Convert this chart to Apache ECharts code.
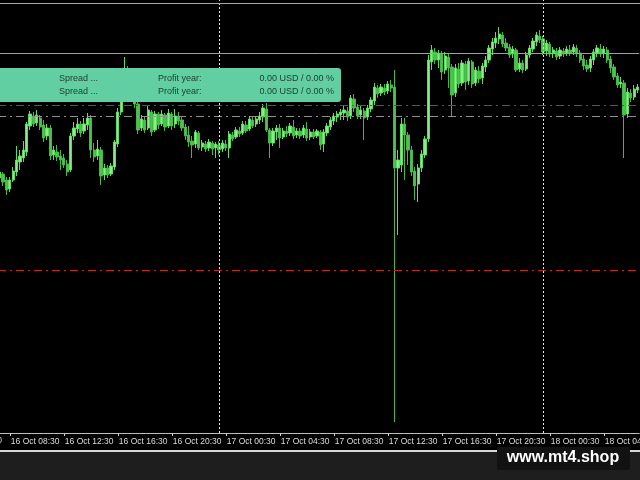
<!DOCTYPE html>
<html>
<head>
<meta charset="utf-8">
<script src="https://cdn.jsdelivr.net/npm/echarts@6/dist/echarts.min.js"></script>
<style>
html,body{margin:0;padding:0;background:#000;}
#c{width:640px;height:480px;}
</style>
</head>
<body>
<div id="c"></div>
<script>
// ---- data (price in chart points) ----
const startDay = 16;            // 16 Oct
const startMinute = 7 * 60 + 45; // 07:45, M15 bars
const barMinutes = 15;

const openP = [255,259,253,244,253,261,271,275,281,307, 317,310,315,308,297,305,278,281,277,275,
269,263,297,304,309,302,308,315,283,277, 283,258,265,259,266,289,321,343,359,348,
338,329,305,313,305,321,303,319,309,318, 307,319,309,317,313,306,298,292,289,300,
286,289,285,290,285,288,284,289,285,298, 296,302,300,308,304,313,309,313,316,324,
303,290,301,305,296,302,300,306,298,302, 298,304,296,301,297,301,289,300,306,312,
316,318,320,322,317,334,326,318,322,316, 324,332,345,340,345,342,348,346,265,268,
309,298,283,262,249,265,278,294,371,381, 373,379,363,376,366,340,364,350,369,352,
371,350,362,355,366,373,384,390,394,398, 390,386,379,383,364,370,364,378,384,391,
397,394,382,389,380,382,377,382,380,383, 381,385,380,374,368,365,373,380,384,380,
383,374,366,357,349,350,319,340,336,343];

const closeP = [261,251,243,253,262,273,277,283,309,319, 309,318,306,295,305,277,283,276,273,268,
261,297,305,309,300,309,315,283,276,284, 257,265,258,267,291,321,343,361,348,338,
329,303,314,303,323,301,319,308,319,306, 320,307,317,312,305,297,291,288,301,285,
290,284,291,284,289,283,290,285,299,294, 303,299,309,302,314,307,314,317,325,303,
290,302,305,295,302,299,307,297,302,297, 305,295,301,296,302,288,301,307,313,317,
319,321,323,316,335,325,317,323,315,325, 333,346,339,346,341,349,345,265,273,309,
298,283,261,247,265,279,294,373,383,373, 380,361,377,365,338,365,349,370,351,372,
349,363,354,367,373,385,391,395,399,389, 385,378,384,363,370,363,378,385,392,398,
393,381,390,379,383,376,383,379,384,380, 386,379,373,367,364,374,381,385,379,384,
373,365,356,348,351,318,341,335,344,346];

const lowP = [250,247,238,241,251,257,263,271,277,303, 306,307,303,291,293,273,273,272,263,265,
257,261,293,300,296,299,303,275,271,273, 248,253,255,257,263,286,318,338,343,333,
325,299,302,300,303,297,301,304,307,302, 305,303,305,308,302,293,286,275,285,283,
282,281,282,278,275,278,281,282,275,292, 294,296,298,300,302,305,306,309,311,301,
275,287,293,285,294,296,297,294,295,294, 295,292,293,294,295,283,281,297,303,308,
311,313,313,312,314,321,314,314,293,313, 321,328,335,337,338,339,341,11,198,261,
253,268,257,233,231,261,275,291,363,369, 365,353,359,345,316,336,345,347,343,348,
345,347,350,349,361,370,378,385,389,386, 382,375,375,361,361,360,362,375,381,387,
390,378,377,376,375,373,374,376,377,377, 378,376,370,363,361,361,368,376,376,375,
370,360,353,345,345,275,315,331,333,340];

const highP = [265,261,256,256,266,287,283,292,311,322, 321,323,318,313,309,308,287,288,283,279,
273,300,311,315,312,315,320,318,290,293, 286,269,268,270,293,325,348,376,367,353,
343,335,318,316,327,323,322,321,323,320, 324,321,324,321,316,309,307,297,303,302,
293,292,294,292,291,292,293,293,302,301, 306,306,312,312,317,316,317,321,329,330,
305,305,308,309,305,307,310,313,305,305, 308,311,304,304,304,303,304,310,316,320,
322,324,327,326,338,339,329,327,325,328, 336,350,348,349,349,352,353,363,283,315,
315,301,287,266,269,283,297,378,388,385, 383,382,381,379,369,369,370,373,372,375,
373,366,367,370,377,388,395,401,406,401, 395,389,387,385,375,373,381,388,395,401,
403,397,393,391,386,385,386,385,387,388, 389,388,383,378,373,377,384,388,389,387,
386,377,369,360,356,353,345,344,348,349];

const tickLabels = ['16 Oct 08:30','16 Oct 12:30','16 Oct 16:30','16 Oct 20:30',
  '17 Oct 00:30','17 Oct 04:30','17 Oct 08:30','17 Oct 12:30','17 Oct 16:30',
  '17 Oct 20:30','18 Oct 00:30','18 Oct 04:30'];
const cutLabel = '16 Oct 04:30'; // label just left of the visible window

const daySeparators = ['17 Oct 00:00', '18 Oct 00:00'];

// price levels
const levelSolidGray = 380;
const levelRedUpper = 328;
const levelGrayDashDot = 317;
const levelRedLower = 163;

const panelRows = [
  ['Spread ...', 'Profit year:', '0.00 USD / 0.00 %'],
  ['Spread ...', 'Profit year:', '0.00 USD / 0.00 %']
];
const watermark = 'www.mt4.shop';

// ---- build ----
function pad(n){ return (n < 10 ? '0' : '') + n; }
const categories = [];
for (let i = 0; i < openP.length; i++) {
  const t = startMinute + barMinutes * i;
  const d = startDay + Math.floor(t / 1440);
  const m = t % 1440;
  categories.push(d + ' Oct ' + pad(Math.floor(m / 60)) + ':' + pad(m % 60));
}
const ohlc = openP.map((o, i) => [o, closeP[i], lowP[i], highP[i]]);
const tickSet = new Set(tickLabels);
const showTick = (idx, val) => tickSet.has(categories[idx]);

const dashDot = [8, 4, 2, 4];
const labelFont = '"Liberation Sans", Arial, sans-serif';

const chart = echarts.init(document.getElementById('c'), null, {renderer: 'canvas'});

const graphics = [
  // top frame line
  {type:'line', shape:{x1:0,y1:3.5,x2:640,y2:3.5}, style:{stroke:'#a8a8a8', lineWidth:1}, z:100},
  // cut-off label at left edge
  {type:'text', x:2, y:441, style:{text:cutLabel, fill:'#dcdcdc', font:'8.5px ' + labelFont, textAlign:'right', textVerticalAlign:'middle'}, z:100},
  // bottom separator and dark area
  {type:'rect', shape:{x:0,y:452,width:640,height:28}, style:{fill:'#1e1e1e'}, z:100},
  {type:'line', shape:{x1:0,y1:451,x2:640,y2:451}, style:{stroke:'#d8d8d8', lineWidth:2}, z:101},
  // watermark
  {type:'rect', shape:{x:497,y:447,width:133,height:23,r:2}, style:{fill:'#121212'}, z:102},
  {type:'text', x:563, y:458, style:{text:watermark, fill:'#ffffff', font:'bold 16px "Liberation Sans", Arial, sans-serif', textAlign:'center', textVerticalAlign:'middle'}, z:103},
  // info panel
  {type:'rect', shape:{x:-4,y:68,width:345,height:34,r:3}, style:{fill:'#62cfa3'}, z:110}
];
panelRows.forEach((row, r) => {
  const y = 79 + r * 13;
  const f = '9px "Liberation Sans", Arial, sans-serif';
  graphics.push({type:'text', x:59, y:y, style:{text:row[0], fill:'#1d3b2e', font:f, textVerticalAlign:'middle'}, z:111});
  graphics.push({type:'text', x:158, y:y, style:{text:row[1], fill:'#1d3b2e', font:f, textVerticalAlign:'middle'}, z:111});
  graphics.push({type:'text', x:334, y:y, style:{text:row[2], fill:'#1d3b2e', font:f, textAlign:'right', textVerticalAlign:'middle'}, z:111});
});

chart.setOption({
  animation: false,
  backgroundColor: '#000000',
  grid: {left: -2, right: 0.75, top: 0, bottom: 47, containLabel: false, outerBoundsMode: 'none'},
  xAxis: {
    type: 'category',
    data: categories,
    boundaryGap: true,
    axisLine: {show: true, lineStyle: {color: '#bdbdbd', width: 1}},
    axisTick: {show: true, interval: showTick, alignWithLabel: true, length: 3, lineStyle: {color: '#d0d0d0'}},
    axisLabel: {
      show: true, interval: showTick, align: 'left', margin: 4, padding: [0,0,0,1],
      color: '#dcdcdc', fontSize: 8.5, fontFamily: labelFont,
      showMinLabel: true, showMaxLabel: true, hideOverlap: false
    },
    splitLine: {show: false}
  },
  yAxis: {
    type: 'value', min: 0, max: 433, show: false, splitLine: {show: false}
  },
  series: [{
    type: 'candlestick',
    data: ohlc,
    barWidth: '82%',
    itemStyle: {
      color: '#86ee86', color0: '#4cc44c',
      borderColor: '#5fdc5f', borderColor0: '#45b845', borderWidth: 1
    },
    markLine: {
      silent: true, symbol: ['none','none'], animation: false,
      label: {show: false},
      data: [
        {yAxis: levelSolidGray, lineStyle: {color: '#a0a0a0', type: 'solid', width: 1}},
        {yAxis: levelRedUpper, lineStyle: {color: '#c0282c', type: dashDot, width: 1}},
        {yAxis: levelGrayDashDot, lineStyle: {color: '#909090', type: dashDot, width: 1}},
        {yAxis: levelRedLower, lineStyle: {color: '#c0282c', type: dashDot, width: 1}},
        {xAxis: daySeparators[0], lineStyle: {color: '#e8e8e8', type: [2, 2], width: 1}},
        {xAxis: daySeparators[1], lineStyle: {color: '#e8e8e8', type: [2, 2], width: 1}}
      ]
    }
  }],
  graphic: graphics
});
</script>
</body>
</html>
